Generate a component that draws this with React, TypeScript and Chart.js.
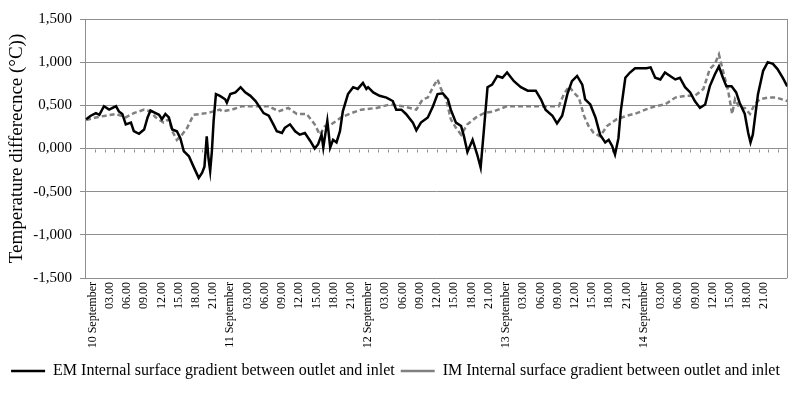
import React, { useEffect, useRef } from "react";
import { Chart, registerables } from "chart.js";

Chart.register(...registerables);

const FONT = "'Liberation Serif', 'Times New Roman', serif";
const GRID = "#8e8e8e";

const DAY_LABELS = ["10 September", "11 September", "12 September", "13 September", "14 September"];
const HOUR_LABELS = ["03.00", "06.00", "09.00", "12.00", "15.00", "18.00", "21.00"];
const Y_TITLE = "Temperature differecnce (°C))";
const EM_LABEL = "EM Internal surface gradient between outlet and inlet";
const IM_LABEL = "IM Internal surface gradient between outlet and inlet";

// hours since 10 September 00.00
const EM_HOURS = [
  -1.1, -0.3, 0.6, 1.2, 2.0, 2.9, 3.5, 4.1, 4.6, 5.2, 5.8, 6.7, 7.2, 8.1, 9.0, 9.6, 10.1, 11.0, 11.6, 12.1,
  12.7, 13.3, 13.9, 14.7, 15.3, 15.9, 16.8, 17.6, 18.5, 19.1, 19.5, 19.9, 20.2, 20.5, 20.8, 21.1, 21.5, 22.2,
  23.1, 23.4, 24.0, 24.9, 25.8, 26.6, 27.5, 28.4, 29.2, 29.8, 30.7, 31.5, 32.1, 33.0, 33.5, 34.4, 35.3, 36.1,
  37.0, 37.9, 38.7, 39.3, 39.9, 40.2, 40.9, 41.1, 41.4, 41.9, 42.5, 43.1, 43.6, 44.5, 45.4, 46.2, 47.1, 47.7,
  48.0, 48.9, 50.0, 51.2, 52.3, 52.9, 53.8, 54.6, 55.8, 56.4, 57.2, 58.4, 59.3, 60.1, 61.0, 61.9, 62.4, 63.3,
  64.2, 64.7, 65.3, 66.2, 67.0, 67.6, 68.2, 68.8, 69.6, 70.5, 71.4, 72.2, 73.4, 74.6, 75.8, 77.2, 78.1, 78.9,
  80.1, 80.9, 81.8, 82.7, 83.5, 84.4, 85.3, 85.8, 86.7, 87.6, 88.4, 89.3, 89.9, 90.5, 91.0, 91.6, 92.0, 92.8,
  93.6, 94.5, 95.6, 96.5, 97.2, 98.0, 98.9, 99.7, 100.6, 101.5, 102.3, 103.2, 104.1, 104.9, 105.8, 106.7,
  107.5, 108.4, 109.1, 109.8, 110.4, 111.3, 112.1, 112.7, 113.6, 114.2, 114.6, 115.0, 115.9, 116.8, 117.6,
  118.5, 119.3, 120.2, 121.0,
];
const EM_VALUES = [
  0.34, 0.38, 0.41, 0.39, 0.49, 0.45, 0.47, 0.49, 0.43, 0.40, 0.28, 0.30, 0.20, 0.17, 0.22, 0.36, 0.44, 0.41, 0.39, 0.34,
  0.40, 0.36, 0.22, 0.20, 0.12, -0.03, -0.09, -0.21, -0.34, -0.28, -0.21, 0.14, -0.11, -0.26, -0.03, 0.32, 0.63, 0.61,
  0.57, 0.53, 0.63, 0.65, 0.71, 0.65, 0.61, 0.55, 0.47, 0.41, 0.38, 0.28, 0.20, 0.18, 0.24, 0.28, 0.20, 0.16,
  0.18, 0.09, 0.00, 0.05, 0.16, 0.01, 0.32, 0.20, 0.01, 0.10, 0.07, 0.20, 0.43, 0.63, 0.71, 0.69, 0.76, 0.69,
  0.71, 0.65, 0.61, 0.59, 0.55, 0.45, 0.45, 0.40, 0.30, 0.21, 0.30, 0.36, 0.49, 0.63, 0.64, 0.57, 0.45, 0.30,
  0.26, 0.14, -0.04, 0.10, -0.07, -0.22, 0.24, 0.71, 0.74, 0.84, 0.82, 0.88, 0.78, 0.71, 0.67, 0.67, 0.57, 0.45,
  0.38, 0.29, 0.38, 0.63, 0.78, 0.84, 0.74, 0.57, 0.51, 0.36, 0.16, 0.07, 0.10, 0.03, -0.07, 0.12, 0.43, 0.82,
  0.88, 0.93, 0.93, 0.93, 0.94, 0.82, 0.80, 0.88, 0.84, 0.80, 0.82, 0.71, 0.65, 0.55, 0.47, 0.51,
  0.72, 0.86, 0.95, 0.82, 0.72, 0.72, 0.65, 0.53, 0.40, 0.18, 0.07, 0.16, 0.63, 0.90, 1.00,
  0.98, 0.92, 0.82, 0.72,
];

const IM_HOURS = [
  -1.1, 0.6, 2.3, 4.1, 5.8, 7.2, 9.0, 10.1, 11.0, 12.4, 13.3, 13.9, 14.7, 15.6, 16.5, 17.6, 18.8, 19.9, 21.1, 22.2,
  22.6, 24.3, 26.0, 28.4, 30.7, 32.4, 34.1, 35.6, 37.3, 38.7, 39.6, 40.5, 41.6, 43.3, 45.1, 46.8, 49.5, 51.8,
  54.1, 56.4, 57.5, 58.4, 59.3, 60.1, 60.7, 61.6, 62.4, 63.3, 64.2, 65.3, 66.8, 68.2, 69.9, 72.2, 74.6, 77.5,
  79.8, 81.2, 82.1, 83.0, 83.8, 84.7, 85.6, 86.4, 87.3, 88.4, 89.6, 91.3, 93.1, 94.8, 96.3, 98.0, 99.7, 101.5,
  103.2, 104.9, 106.4, 107.5, 108.4, 109.1, 109.8, 110.7, 111.4, 111.9, 112.7, 113.6, 114.5, 115.3, 116.2,
  117.6, 119.1, 121.0,
];
const IM_VALUES = [
  0.33, 0.36, 0.38, 0.40, 0.36, 0.41, 0.45, 0.43, 0.36, 0.30, 0.34, 0.20, 0.10, 0.16, 0.24, 0.39, 0.40, 0.41, 0.43, 0.45,
  0.43, 0.45, 0.49, 0.49, 0.49, 0.43, 0.47, 0.40, 0.40, 0.28, 0.16, 0.26, 0.28, 0.36, 0.41, 0.45, 0.47, 0.51,
  0.49, 0.45, 0.57, 0.59, 0.71, 0.80, 0.69, 0.57, 0.34, 0.24, 0.16, 0.28, 0.36, 0.41, 0.43, 0.49, 0.49, 0.49,
  0.49, 0.49, 0.63, 0.72, 0.65, 0.59, 0.38, 0.26, 0.18, 0.14, 0.26, 0.34, 0.38, 0.41, 0.45, 0.49, 0.51, 0.59,
  0.61, 0.61, 0.69, 0.92, 0.98, 1.09, 0.90, 0.67, 0.40, 0.57, 0.47, 0.47, 0.40, 0.51, 0.57,
  0.59, 0.59, 0.55,
];

const X_MIN = -1.3;
const X_MAX = 121;
const Y_MIN = -1.5;
const Y_MAX = 1.5;
const Y_STEP = 0.5;
const MINOR_TICK_START = 0.43;
const MINOR_TICK_STEP = 1.7;

const decorPlugin = {
  id: "decor",
  beforeDatasetsDraw(chart: any) {
    const { ctx, chartArea, scales } = chart;
    const x = scales.x;
    const y = scales.y;
    ctx.save();
    ctx.strokeStyle = GRID;
    ctx.lineWidth = 1;
    ctx.beginPath();
    const rx = Math.round(chartArea.right) + 0.5;
    ctx.moveTo(rx, chartArea.top);
    ctx.lineTo(rx, chartArea.bottom);
    const y0 = Math.round(y.getPixelForValue(0)) + 0.5;
    for (let h = MINOR_TICK_START; h <= X_MAX; h += MINOR_TICK_STEP) {
      const px = Math.round(x.getPixelForValue(h)) + 0.5;
      ctx.moveTo(px, y0);
      ctx.lineTo(px, y0 + 3);
    }
    ctx.stroke();
    ctx.restore();
  },
};

export default function App() {
  const ref = useRef<HTMLCanvasElement>(null);
  useEffect(() => {
    if (!ref.current) return;
    const chart = new Chart(ref.current, {
      type: "line",
      data: {
        datasets: [
          {
            label: EM_LABEL,
            data: EM_HOURS.map((h, i) => ({ x: h, y: EM_VALUES[i] })),
            borderColor: "#000000",
            backgroundColor: "#000000",
            borderWidth: 2.5,
            pointRadius: 0,
            tension: 0,
            fill: false,
          },
          {
            label: IM_LABEL,
            data: IM_HOURS.map((h, i) => ({ x: h, y: IM_VALUES[i] })),
            borderColor: "#808080",
            backgroundColor: "#808080",
            borderWidth: 2.5,
            borderDash: [5, 3],
            pointRadius: 0,
            tension: 0,
            fill: false,
          },
        ],
      },
      options: {
        responsive: false,
        animation: false,
        layout: { padding: { left: 0, right: 9, top: 19, bottom: 10 } },
        scales: {
          x: {
            type: "linear",
            min: X_MIN,
            max: X_MAX,
            grid: { display: false, drawTicks: false },
            border: { display: false },
            afterFit: (s: any) => {
              s.height = 79;
            },
            ticks: {
              stepSize: 3,
              includeBounds: false,
              autoSkip: false,
              minRotation: 90,
              maxRotation: 90,
              padding: 4,
              color: "#000",
              font: { family: FONT, size: 12 },
              callback: (value: any) => {
                const h = Math.round(Number(value));
                if (h < 0) return "";
                if (h % 24 === 0) return DAY_LABELS[h / 24] ?? "";
                return HOUR_LABELS[(h % 24) / 3 - 1] ?? "";
              },
            },
          },
          y: {
            min: Y_MIN,
            max: Y_MAX,
            afterFit: (s: any) => {
              s.width = 85;
            },
            grid: { color: GRID, tickLength: 5, lineWidth: 1 },
            border: { color: GRID },
            ticks: {
              stepSize: Y_STEP,
              padding: 8,
              color: "#000",
              font: { family: FONT, size: 15 },
              callback: (v: any) => Number(v).toFixed(3).replace(".", ","),
            },
            title: {
              display: true,
              text: Y_TITLE,
              color: "#000",
              font: { family: FONT, size: 19 },
              padding: { top: 6, bottom: 0 },
            },
          },
        },
        plugins: {
          legend: {
            position: "bottom",
            labels: {
              usePointStyle: true,
              pointStyle: "line",
              pointStyleWidth: 34,
              color: "#000",
              padding: 6,
              font: { family: FONT, size: 16 },
            },
          },
          tooltip: { enabled: false },
        },
      },
      plugins: [decorPlugin],
    } as any);
    return () => chart.destroy();
  }, []);
  return (
    <div style={{ position: "fixed", left: 0, top: 0, width: 800, height: 399, background: "#fff" }}>
      <canvas ref={ref} width={800} height={399} />
    </div>
  );
}
